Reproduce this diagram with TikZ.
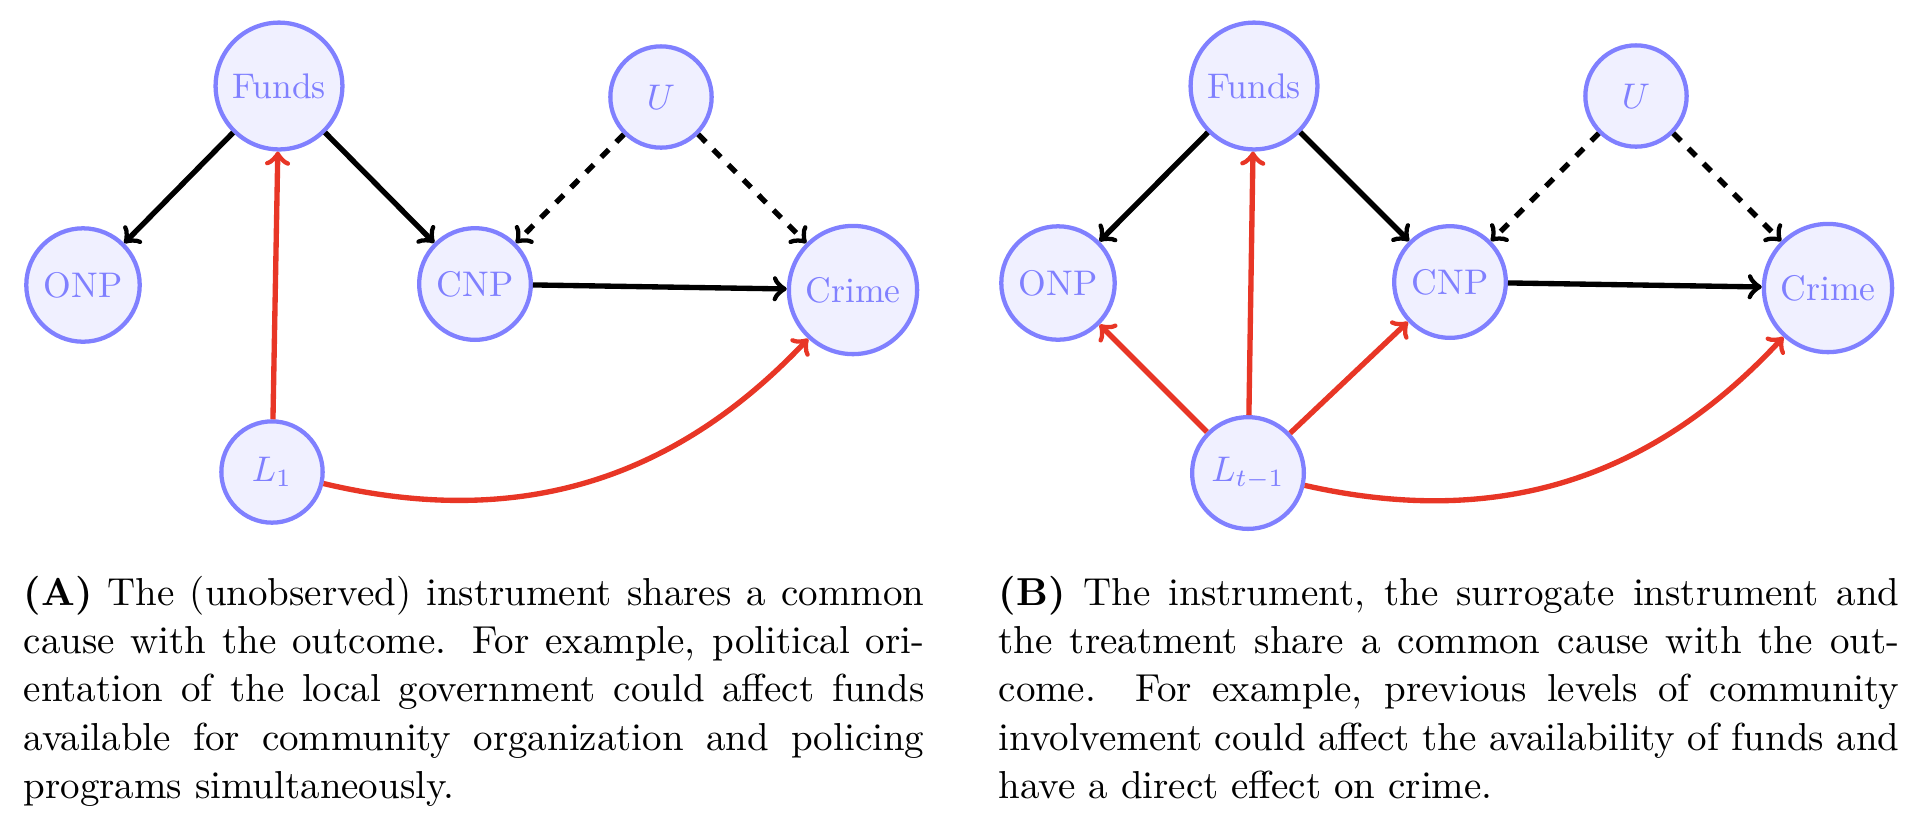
\documentclass[tikz,border=0pt]{standalone}
\usepackage{amsmath}
\definecolor{nodeblue}{RGB}{128,128,255}
\definecolor{nodefill}{RGB}{240,240,255}
\definecolor{edgered}{RGB}{232,54,38}
\tikzset{
  var/.style={circle, draw=nodeblue, fill=nodefill, text=nodeblue, line width=1.2pt, minimum size=1cm, inner sep=3.33pt, font=\fontsize{10}{12}\selectfont},
  blk/.style={->, line width=1.5pt, black},
  rd/.style={->, line width=1.5pt, edgered},
  capt/.style={anchor=base west, inner sep=0pt, text width=253pt, align=justify, font=\fontsize{10.95}{13.6}\selectfont}
}
\begin{document}
\begin{tikzpicture}[x=0.2809pt, y=-0.2809pt]
\useasboundingbox (0,0) rectangle (1930,826);
% Panel A
\node[var] (fA) at (279,86) {Funds};
\node[var] (uA) at (661,97) {$U$};
\node[var] (oA) at (83,285) {ONP};
\node[var] (cA) at (475,284) {CNP};
\node[var] (crA) at (853,290) {Crime};
\node[var] (lA) at (272,472) {$L_1$};
\draw[blk] (fA) -- (oA);
\draw[blk] (fA) -- (cA);
\draw[blk] (cA) -- (crA);
\draw[blk, dashed] (uA) -- (cA);
\draw[blk, dashed] (uA) -- (crA);
\draw[rd] (lA) -- (fA);
\draw[rd] (lA) to[bend right=30] (crA);
% Panel B
\node[var] (fB) at (1254,86) {Funds};
\node[var] (uB) at (1636,96) {$U$};
\node[var] (oB) at (1058,283) {ONP};
\node[var] (cB) at (1450,282) {CNP};
\node[var] (crB) at (1828,288) {Crime};
\node[var] (lB) at (1248,473) {$L_{t-1}$};
\draw[blk] (fB) -- (oB);
\draw[blk] (fB) -- (cB);
\draw[blk] (cB) -- (crB);
\draw[blk, dashed] (uB) -- (cB);
\draw[blk, dashed] (uB) -- (crB);
\draw[rd] (lB) -- (fB);
\draw[rd] (lB) -- (oB);
\draw[rd] (lB) -- (cB);
\draw[rd] (lB) to[bend right=30] (crB);
% Captions
\node[capt] (capA) at (23,605) {\textbf{(A)} The (unobserved) instrument shares a common\linebreak cause with the outcome. For example, political ori-\linebreak entation of the local government could affect funds\linebreak available for community organization and policing\linebreak programs simultaneously.};
\node[capt] (capB) at (998,605) {\textbf{(B)} The instrument, the surrogate instrument and\linebreak the treatment share a common cause with the out-\linebreak come.  For example, previous levels of community\linebreak involvement could affect the availability of funds and\linebreak have a direct effect on crime.};
\end{tikzpicture}
\end{document}
